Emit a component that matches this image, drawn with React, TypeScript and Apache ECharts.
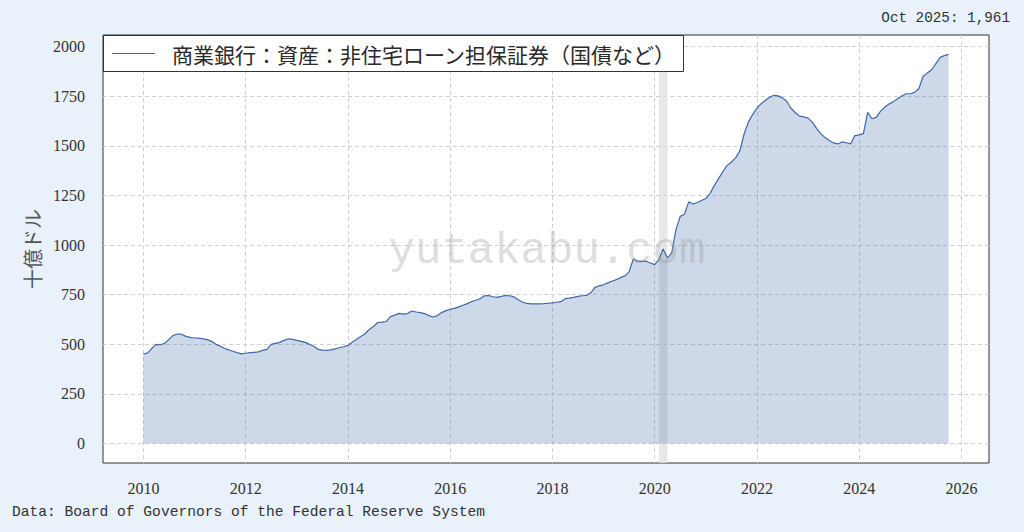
import React, { useEffect, useRef } from "react";
import * as echarts from "echarts";

// Monthly values (billions of USD), Jan 2010 – Oct 2025
const startYear = 2010;
const v2010 = [450, 457, 480, 500, 498, 505, 525, 545, 552, 550, 540, 535];
const v2011 = [532, 531, 528, 524, 515, 500, 492, 480, 472, 465, 458, 452];
const v2012 = [455, 458, 460, 462, 470, 475, 500, 505, 510, 520, 528, 525];
const v2013 = [520, 515, 510, 500, 490, 475, 471, 470, 472, 477, 483, 488];
const v2014 = [495, 510, 524, 540, 552, 575, 590, 610, 612, 615, 640, 647];
const v2015 = [656, 652, 655, 668, 663, 660, 655, 645, 638, 645, 660, 670];
const v2016 = [677, 681, 689, 697, 705, 715, 722, 730, 744, 746, 740, 737];
const v2017 = [742, 746, 745, 739, 725, 712, 706, 704, 704, 704, 705, 707];
const v2018 = [709, 712, 715, 730, 733, 737, 742, 745, 747, 760, 787, 795];
const v2019 = [800, 810, 818, 826, 836, 845, 865, 930, 919, 918, 919, 910];
const v2020 = [902, 927, 981, 935, 960, 1078, 1145, 1156, 1218, 1207, 1215, 1225];
const v2021 = [1235, 1260, 1300, 1335, 1370, 1402, 1418, 1440, 1475, 1560, 1620, 1658];
const v2022 = [1690, 1713, 1730, 1745, 1755, 1752, 1742, 1725, 1690, 1668, 1650, 1646];
const v2023 = [1640, 1620, 1588, 1562, 1542, 1527, 1515, 1510, 1520, 1516, 1510, 1552];
const v2024 = [1556, 1562, 1669, 1637, 1644, 1674, 1695, 1711, 1722, 1738, 1752, 1763];
const v2025 = [1763, 1770, 1788, 1850, 1868, 1884, 1915, 1946, 1955, 1961];

const values = [
  ...v2010, ...v2011, ...v2012, ...v2013, ...v2014, ...v2015, ...v2016, ...v2017,
  ...v2018, ...v2019, ...v2020, ...v2021, ...v2022, ...v2023, ...v2024, ...v2025,
];

const xTicks = [2010, 2012, 2014, 2016, 2018, 2020, 2022, 2024, 2026];
const yTicks = [0, 250, 500, 750, 1000, 1250, 1500, 1750, 2000];
const recession = [2020 + 1 / 12, 2020 + 3 / 12];

const seriesName = "商業銀行：資産：非住宅ローン担保証券（国債など）";
const lastLabel = "Oct 2025: 1,961";
const sourceLabel = "Data: Board of Governors of the Federal Reserve System";
const yTitle = "十億ドル";
const watermark = "yutakabu.com";

export default function App() {
  const ref = useRef<HTMLDivElement>(null);

  useEffect(() => {
    if (!ref.current) return;
    const chart = echarts.init(ref.current, undefined, { renderer: "svg" });
    const data = values.map((v, i) => [startYear + i / 12, v]);
    const lineColor = "#3f68a8";
    const tickFont = "Liberation Serif";

    chart.setOption({
      animation: false,
      backgroundColor: "#e9f1fa",
      grid: {
        left: 103,
        right: 35,
        top: 35,
        bottom: 69,
        show: true,
        backgroundColor: "#ffffff",
        borderColor: "#333333",
        borderWidth: 1,
      },
      xAxis: {
        type: "value",
        min: 2009.21,
        max: 2026.54,
        axisLine: { show: false },
        axisTick: { show: false, customValues: xTicks },
        axisLabel: {
          customValues: xTicks,
          formatter: (v: number) => String(v),
          fontFamily: tickFont,
          fontSize: 16,
          color: "#333",
          margin: 17,
        },
        splitLine: {
          show: true,
          lineStyle: { color: "#d0d0d0", type: [4, 3], width: 1 },
        },
      },
      yAxis: {
        type: "value",
        min: -98,
        max: 2059,
        name: yTitle,
        nameLocation: "middle",
        nameGap: 56,
        nameTextStyle: { fontFamily: "Noto Sans CJK JP", fontSize: 20, color: "#555" },
        axisLine: { show: false },
        axisTick: { show: false, customValues: yTicks },
        axisLabel: {
          customValues: yTicks,
          formatter: (v: number) => String(v),
          fontFamily: tickFont,
          fontSize: 16,
          color: "#333",
          margin: 18,
        },
        splitLine: {
          show: true,
          lineStyle: { color: "#d0d0d0", type: [4, 3], width: 1 },
        },
      },
      series: [
        {
          name: seriesName + " area",
          type: "line",
          data,
          symbol: "none",
          z: 2,
          lineStyle: { width: 0, opacity: 0 },
          areaStyle: { color: lineColor, opacity: 0.26, origin: 0 },
        },
        {
          type: "line",
          data: [],
          z: 3,
          markArea: {
            silent: true,
            itemStyle: { color: "rgba(222,222,222,0.7)" },
            data: [[{ xAxis: recession[0] }, { xAxis: recession[1] }]],
          },
        },
        {
          name: seriesName,
          type: "line",
          data,
          symbol: "none",
          z: 4,
          lineStyle: { color: lineColor, width: 1.2 },
        },
      ],
      graphic: [
        {
          type: "text",
          x: 547,
          y: 251,
          z: 50,
          style: {
            text: watermark,
            font: "44px 'Liberation Mono'",
            fill: "rgba(150,150,150,0.32)",
            align: "center",
            verticalAlign: "middle",
          },
        },
        {
          type: "rect",
          z: 60,
          shape: { x: 103.5, y: 35.5, width: 580, height: 36 },
          style: { fill: "#ffffff", stroke: "#333333", lineWidth: 1 },
        },
        {
          type: "line",
          z: 61,
          shape: { x1: 112, y1: 53.5, x2: 155, y2: 53.5 },
          style: { stroke: lineColor, lineWidth: 1.2 },
        },
        {
          type: "text",
          z: 61,
          x: 172,
          y: 54,
          style: {
            text: seriesName,
            font: "21px 'Noto Sans CJK JP'",
            fill: "#2a2a2a",
            verticalAlign: "middle",
          },
        },
        {
          type: "text",
          x: 1010,
          y: 18,
          style: {
            text: lastLabel,
            font: "14.3px 'Liberation Mono'",
            fill: "#333",
            align: "right",
            verticalAlign: "middle",
          },
        },
        {
          type: "text",
          x: 12,
          y: 512,
          style: {
            text: sourceLabel,
            font: "14.6px 'Liberation Mono'",
            fill: "#333",
            align: "left",
            verticalAlign: "middle",
          },
        },
      ],
    });

    return () => chart.dispose();
  }, []);

  return (
    <div
      style={{
        position: "fixed",
        left: 0,
        top: 0,
        width: 1024,
        height: 532,
      }}
    >
      <div ref={ref} style={{ width: 1024, height: 532 }} />
    </div>
  );
}
